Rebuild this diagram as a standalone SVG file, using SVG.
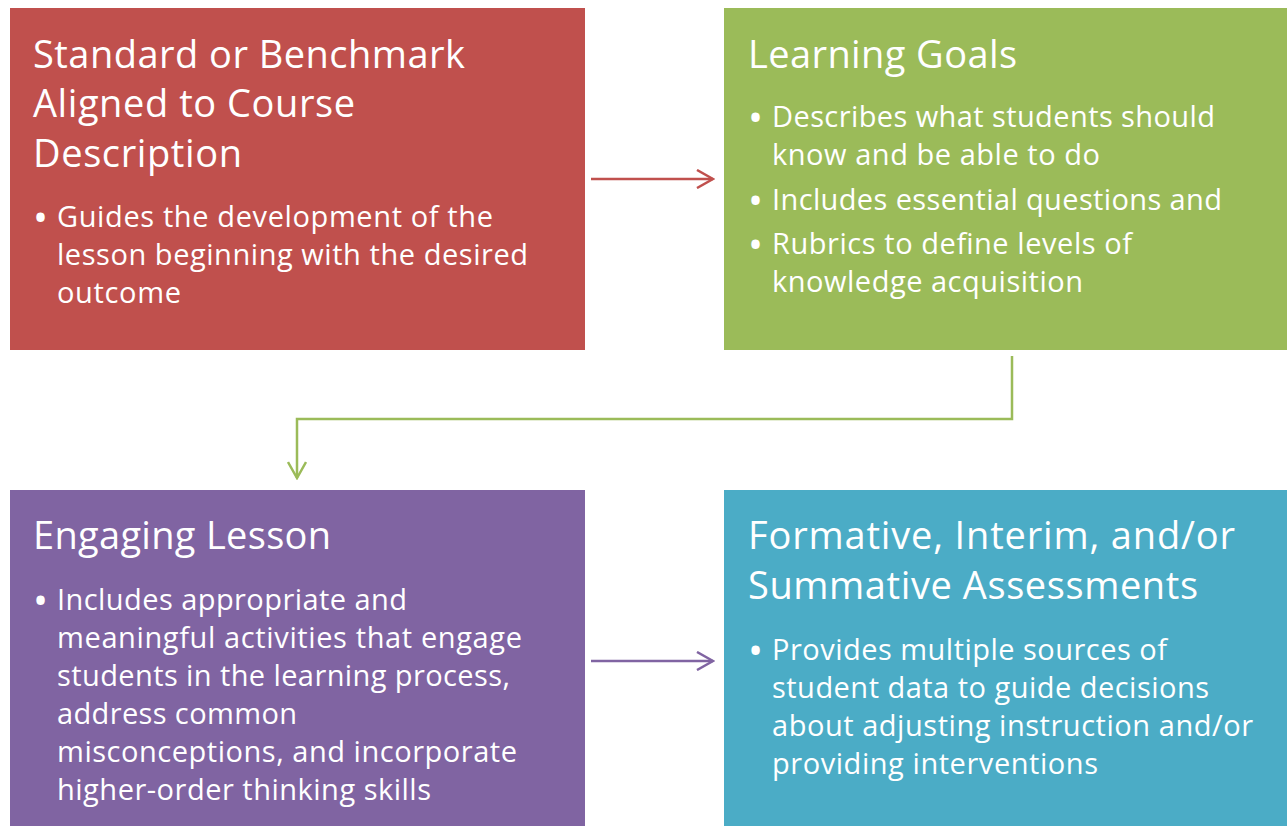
<svg xmlns="http://www.w3.org/2000/svg" width="1287" height="826" viewBox="0 0 1287 826">
<style>
.t{font-family:"Open Sans","Liberation Sans",sans-serif;fill:#ffffff;font-size:38px}
.b{font-family:"Open Sans","Liberation Sans",sans-serif;fill:#ffffff;font-size:29px}
.bl{font-family:"Open Sans","Liberation Sans",sans-serif;fill:#ffffff;font-size:40px}
</style>
<defs>
<marker id="ar" viewBox="0 0 20 20" refX="18" refY="10" markerWidth="20" markerHeight="20" markerUnits="userSpaceOnUse" orient="auto"><path d="M2,1 L18,10 L2,19" fill="none" stroke="#c0504d" stroke-width="2.5"/></marker>
<marker id="ag" viewBox="0 0 20 20" refX="18" refY="10" markerWidth="20" markerHeight="20" markerUnits="userSpaceOnUse" orient="auto"><path d="M2,1 L18,10 L2,19" fill="none" stroke="#9bbb59" stroke-width="2.5"/></marker>
<marker id="ap" viewBox="0 0 20 20" refX="18" refY="10" markerWidth="20" markerHeight="20" markerUnits="userSpaceOnUse" orient="auto"><path d="M2,1 L18,10 L2,19" fill="none" stroke="#8064a2" stroke-width="2.5"/></marker>
</defs>
<rect width="1287" height="826" fill="#ffffff"/>
<g id="node-standard">
<rect x="10" y="8" width="575" height="342" fill="#c0504d"/>
<text class="t" x="33" y="68" textLength="432">Standard or Benchmark</text>
<text class="t" x="33" y="117" textLength="322">Aligned to Course</text>
<text class="t" x="33" y="167" textLength="209">Description</text>
<text class="bl" x="33" y="232">•</text>
<text class="b" x="57" y="227" textLength="436">Guides the development of the</text>
<text class="b" x="57" y="265" textLength="471">lesson beginning with the desired</text>
<text class="b" x="57" y="303" textLength="124">outcome</text>
</g>
<g id="node-goals">
<rect x="724" y="8" width="563" height="342" fill="#9bbb59"/>
<text class="t" x="748" y="68" textLength="269">Learning Goals</text>
<text class="bl" x="748" y="132">•</text>
<text class="b" x="772" y="127" textLength="443">Describes what students should</text>
<text class="b" x="772" y="165" textLength="328">know and be able to do</text>
<text class="bl" x="748" y="215">•</text>
<text class="b" x="772" y="210" textLength="450">Includes essential questions and</text>
<text class="bl" x="748" y="259">•</text>
<text class="b" x="772" y="254" textLength="360">Rubrics to define levels of</text>
<text class="b" x="772" y="292" textLength="311">knowledge acquisition</text>
</g>
<g id="node-lesson">
<rect x="10" y="490" width="575" height="336" fill="#8064a2"/>
<text class="t" x="33" y="549" textLength="298">Engaging Lesson</text>
<text class="bl" x="33" y="615">•</text>
<text class="b" x="57" y="610" textLength="350">Includes appropriate and</text>
<text class="b" x="57" y="648" textLength="465">meaningful activities that engage</text>
<text class="b" x="57" y="686" textLength="453">students in the learning process,</text>
<text class="b" x="57" y="724" textLength="240">address common</text>
<text class="b" x="57" y="762" textLength="460">misconceptions, and incorporate</text>
<text class="b" x="57" y="800" textLength="374">higher-order thinking skills</text>
</g>
<g id="node-assess">
<rect x="724" y="490" width="563" height="336" fill="#4bacc6"/>
<text class="t" x="748" y="549" textLength="487">Formative, Interim, and/or</text>
<text class="t" x="748" y="599" textLength="450">Summative Assessments</text>
<text class="bl" x="748" y="665">•</text>
<text class="b" x="772" y="660" textLength="395">Provides multiple sources of</text>
<text class="b" x="772" y="698" textLength="437">student data to guide decisions</text>
<text class="b" x="772" y="736" textLength="481">about adjusting instruction and/or</text>
<text class="b" x="772" y="774" textLength="326">providing interventions</text>
</g>
<g id="connectors" fill="none" stroke-width="2.5">
<path d="M591,179 L713,179" stroke="#c0504d" marker-end="url(#ar)"/>
<path d="M1012,356 L1012,419 L297,419 L297,478" stroke="#9bbb59" marker-end="url(#ag)"/>
<path d="M591,661 L713,661" stroke="#8064a2" marker-end="url(#ap)"/>
</g>
</svg>
